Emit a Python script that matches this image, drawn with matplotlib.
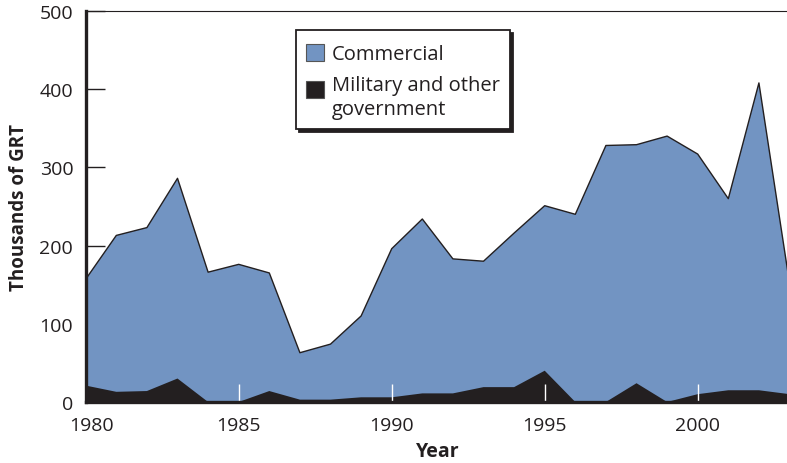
import matplotlib
matplotlib.use('Agg')
import matplotlib.pyplot as plt
import matplotlib.transforms as mtransforms
from matplotlib.legend_handler import HandlerPatch
from matplotlib.patches import Patch, Rectangle

years = list(range(1980, 2004))
commercial = [157, 213, 223, 286, 166, 176, 165, 63, 74, 110, 196, 234,
              183, 180, 216, 251, 240, 328, 329, 340, 317, 260, 408, 152]
military = [21, 13, 14, 30, 0, 0, 14, 3, 3, 6, 6, 11,
            11, 19, 19, 40, 0, 0, 24, 0, 10, 15, 15, 10]
x_ticks = [1980, 1985, 1990, 1995, 2000]
y_ticks = [0, 100, 200, 300, 400, 500]

BLUE = '#7294c2'
DARK = '#231f20'

plt.rcParams['font.family'] = ['Open Sans', 'DejaVu Sans']

fig = plt.figure(figsize=(7.87, 4.64), dpi=100)
ax = fig.add_axes([0.1089, 0.1315, 0.8943, 0.8427])

ax.fill_between(years, commercial, 0, facecolor=BLUE, edgecolor='none', zorder=1)
ax.plot(years, commercial, color=DARK, lw=1.0, zorder=1.5)
ax.fill_between(years, military, 0, facecolor=DARK, edgecolor='none', zorder=2)

ax.set_xlim(1980, 2003)
ax.set_ylim(0, 500)
ax.set_xticks(x_ticks)
ax.set_yticks(y_ticks)

ax.tick_params(axis='y', direction='in', length=14, width=1.0, color=DARK,
               labelsize=14, pad=9, labelcolor=DARK)
ax.tick_params(axis='x', direction='in', length=13, width=1.0, color='white',
               labelsize=14, pad=10, labelcolor=DARK)
ax.yaxis.set_zorder(0.5)
ax.xaxis.set_zorder(4)

# first year label sits a bit to the right of the axis corner
first = ax.get_xticklabels()[0]
first.set_transform(first.get_transform() +
                    mtransforms.ScaledTranslation(6 / 100, 0, fig.dpi_scale_trans))

for side in ['left', 'bottom']:
    ax.spines[side].set_linewidth(2.4)
    ax.spines[side].set_color(DARK)
    ax.spines[side].set_zorder(5)
ax.spines['top'].set_linewidth(0.8)
ax.spines['top'].set_color(DARK)
ax.spines['right'].set_visible(False)

ax.set_xlabel('Year', fontsize=14, fontweight='bold', color=DARK, labelpad=5)
ax.set_ylabel('Thousands of GRT', fontsize=13.5, fontweight='bold', color=DARK, labelpad=7.5)


def square_at(dy):
    def make(legend, orig_handle, xdescent, ydescent, width, height, fontsize):
        return Rectangle((-xdescent, dy), width, 12.2)
    return make


h_com = Patch(facecolor=BLUE, edgecolor='#555555', lw=0.8, label='Commercial')
h_mil = Patch(facecolor=DARK, edgecolor='#555555', lw=0.8,
              label='Military and other\ngovernment')
leg = ax.legend(handles=[h_com, h_mil], loc='upper left',
                bbox_to_anchor=(0.2988, 0.9514), borderaxespad=0,
                fontsize=14.5, frameon=True, fancybox=False,
                shadow={'color': DARK, 'alpha': 1},
                handlelength=0.88, handleheight=1.5, handletextpad=0.4,
                labelspacing=0.5, borderpad=0.5,
                handler_map={h_com: HandlerPatch(patch_func=square_at(-1.5)),
                             h_mil: HandlerPatch(patch_func=square_at(4.6))})
leg.get_frame().set_edgecolor(DARK)
leg.get_frame().set_linewidth(1.3)
for t in leg.get_texts():
    t.set_linespacing(1.3)
    t.set_color(DARK)
leg.set_zorder(6)

fig.savefig('out.png', dpi=100)
